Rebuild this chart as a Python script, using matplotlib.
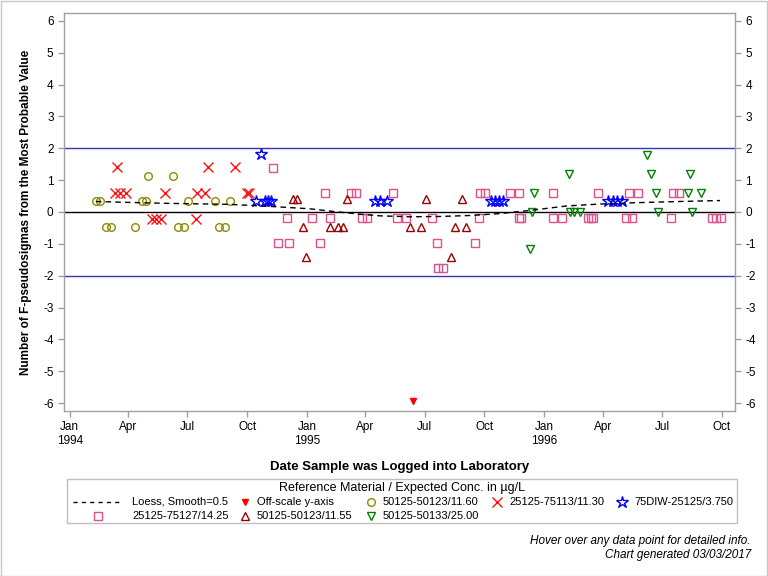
import numpy as np
import matplotlib
matplotlib.use("Agg")
import matplotlib.pyplot as plt
from matplotlib.lines import Line2D
from matplotlib.patches import Rectangle

plt.rcParams['font.family'] = ['Liberation Sans', 'DejaVu Sans']
plt.rcParams['axes.unicode_minus'] = False

BASE = np.datetime64('1994-01-01')

# ---- data (days since 1994-01-01, value in F-pseudosigmas) ----
loess_days = [40, 92, 154, 246, 313, 370, 400, 442, 477, 524, 570, 616, 662, 713, 765, 816, 867, 939, 1001]
loess_vals = [0.33, 0.30, 0.27, 0.24, 0.17, 0.10, 0.03, -0.06, -0.12, -0.15, -0.14, -0.11, -0.05, 0.06, 0.19, 0.25, 0.29, 0.33, 0.36]

off_days = [528]
off_vals = [-5.95]

olive_days = [40, 46, 56, 63, 100, 111, 117, 120, 159, 166, 176, 182, 224, 230, 239, 246]
olive_vals = [0.35, 0.35, -0.48, -0.48, -0.48, 0.35, 0.35, 1.13, 1.13, -0.48, -0.48, 0.35, 0.35, -0.48, -0.48, 0.35]

redx_days = [69, 73, 77, 86, 127, 133, 140, 147, 194, 196, 208, 213, 254, 273, 276]
redx_vals = [0.59, 1.40, 0.59, 0.59, -0.23, -0.23, -0.23, 0.59, -0.23, 0.59, 0.59, 1.40, 1.40, 0.59, 0.59]

star_days = [286, 294, 300, 305, 309, 470, 477, 488, 649, 655, 661, 667, 829, 836, 843, 850]
star_vals = [0.35, 1.82, 0.35, 0.35, 0.35, 0.35, 0.35, 0.35, 0.35, 0.35, 0.35, 0.35, 0.35, 0.35, 0.35, 0.35]

sq_days = [313, 321, 335, 338, 373, 385, 393, 401, 433, 440, 449, 457, 498, 504, 518, 558, 566, 567,
           575, 623, 630, 631, 639, 677, 692, 692, 694, 744, 744, 758, 798, 802, 806, 813, 856, 861,
           866, 875, 926, 929, 938, 988, 995, 1002]
sq_vals = [1.37, -0.98, -0.2, -0.98, -0.2, -0.98, 0.59, -0.2, 0.59, 0.59, -0.2, -0.2, 0.59, -0.2, -0.2, -0.2, -0.98, -1.77,
           -1.77, -0.98, -0.2, 0.59, 0.59, 0.6, 0.6, -0.2, -0.2, 0.6, -0.2, -0.2, -0.2, -0.2, -0.2, 0.6, -0.2, 0.6,
           -0.2, 0.6, -0.2, 0.6, 0.6, -0.2, -0.2, -0.2]

tri_days = [343, 349, 359, 364, 400, 413, 421, 427, 524, 541, 548, 587, 593, 604, 610]
tri_vals = [0.40, 0.40, -0.48, -1.40, -0.48, -0.48, -0.48, 0.40, -0.48, -0.48, 0.40, -1.40, -0.48, 0.40, -0.48]

grn_days = [709, 712, 715, 769, 770, 776, 785, 888, 895, 903, 906, 951, 955, 958, 972]
grn_vals = [-1.16, 0.0, 0.59, 1.19, 0.0, 0.0, 0.0, 1.79, 1.19, 0.59, 0.0, 0.59, 1.19, 0.0, 0.59]

ref_lines = [2, 0, -2]
tick_dates = ['1994-01-01', '1994-04-01', '1994-07-01', '1994-10-01', '1995-01-01', '1995-04-01',
              '1995-07-01', '1995-10-01', '1996-01-01', '1996-04-01', '1996-07-01', '1996-10-01']
tick_labels = ['Jan\n1994', 'Apr', 'Jul', 'Oct', 'Jan\n1995', 'Apr', 'Jul', 'Oct', 'Jan\n1996', 'Apr', 'Jul', 'Oct']
y_ticks = list(range(-6, 7))

legend_title = 'Reference Material / Expected Conc. in µg/L'
legend_labels = ['Loess, Smooth=0.5', 'Off-scale y-axis', '50125-50123/11.60', '25125-75113/11.30',
                 '75DIW-25125/3.750', '25125-75127/14.25', '50125-50123/11.55', '50125-50133/25.00']


def d(days):
    return BASE + np.array(days, dtype='timedelta64[D]')


W, H = 768, 576
fig = plt.figure(figsize=(W / 100, H / 100), dpi=100)
fx = lambda px: px / W
fy = lambda py: 1 - py / H

ax = fig.add_axes([fx(64), fy(411), fx(735) - fx(64), fy(13) - fy(411)])

# styles
st = {
    'off': dict(marker='v', color='#FF0000', ms=5, ls='none'),
    'olive': dict(marker='o', mfc='none', mec='#8C8C00', ms=5.5, mew=1.0, ls='none'),
    'redx': dict(marker='x', color='#FF1010', ms=6.5, mew=1.0, ls='none'),
    'star': dict(marker='*', mfc='none', mec='#0000FF', ms=9, mew=1.0, ls='none'),
    'sq': dict(marker='s', mfc='none', mec='#E0508A', ms=5.5, mew=1.0, ls='none'),
    'tri': dict(marker='^', mfc='none', mec='#990000', ms=5.5, mew=1.0, ls='none'),
    'grn': dict(marker='v', mfc='none', mec='#008000', ms=5.5, mew=1.0, ls='none'),
}

ax.axhline(ref_lines[0], color='#3333BB', lw=1.0, zorder=1)
ax.axhline(ref_lines[1], color='black', lw=1.0, zorder=1)
ax.axhline(ref_lines[2], color='#3333BB', lw=1.0, zorder=1)

ax.plot(d(loess_days), loess_vals, color='black', lw=1.0, dashes=(4, 3), zorder=3)
ax.plot(d(off_days), off_vals, **st['off'])
ax.plot(d(olive_days), olive_vals, **st['olive'])
ax.plot(d(redx_days), redx_vals, **st['redx'])
ax.plot(d(star_days), star_vals, **st['star'])
ax.plot(d(sq_days), sq_vals, **st['sq'])
ax.plot(d(tri_days), tri_vals, **st['tri'])
ax.plot(d(grn_days), grn_vals, **st['grn'])

ax.set_xlim(np.datetime64('1993-12-23'), np.datetime64('1996-10-21'))
ax.set_ylim(-6.25, 6.25)
ax.set_xticks(np.array(tick_dates, dtype='datetime64[D]'))
ax.set_xticklabels(tick_labels)
ax.set_yticks(y_ticks)
ax.tick_params(axis='both', colors='#A0A0A0', labelcolor='black', labelsize=8.5, length=4, width=1)
ax.tick_params(axis='y', right=True, labelright=True)
for sp in ax.spines.values():
    sp.set_color('#A0A0A0')
    sp.set_linewidth(1.0)

ax.set_xlabel('Date Sample was Logged into Laboratory', fontsize=9.5, fontweight='bold', labelpad=10)
ax.set_ylabel('Number of F-pseudosigmas from the Most Probable Value', fontsize=8.5, fontweight='bold', labelpad=8)

# ---- legend (manual) ----
fig.add_artist(Rectangle((fx(67), fy(523)), fx(737) - fx(67), fy(479) - fy(523),
                         transform=fig.transFigure, fill=False, ec='#C0C0C0', lw=1.0))
fig.text(fx(402), fy(488), legend_title, ha='center', va='center', fontsize=9)

row1, row2 = 502, 516
fig.add_artist(Line2D([fx(73), fx(121)], [fy(row1), fy(row1)], color='black', lw=1.0, dashes=(3, 3),
                      transform=fig.transFigure))
fs = 8
fig.text(fx(132), fy(row1), legend_labels[0], ha='left', va='center', fontsize=fs)
items = [
    (245, row1, 'off', 1), (371, row1, 'olive', 2), (497, row1, 'redx', 3), (622, row1, 'star', 4),
    (98, row2, 'sq', 5), (245, row2, 'tri', 6), (371, row2, 'grn', 7),
]
for mx, my, key, li in items:
    fig.add_artist(Line2D([fx(mx)], [fy(my)], transform=fig.transFigure, **st[key]))
    lx = 132 if mx < 120 else mx + 12
    fig.text(fx(lx), fy(my), legend_labels[li], ha='left', va='center', fontsize=fs)

# footer
fig.text(fx(751), fy(541), 'Hover over any data point for detailed info.', ha='right', va='center',
         fontsize=8.5, style='italic')
fig.text(fx(751), fy(555), 'Chart generated 03/03/2017', ha='right', va='center',
         fontsize=8.5, style='italic')

# outer border
fig.add_artist(Rectangle((0.5 / W, 0.5 / H), 1 - 1.5 / W, 1 - 1.5 / H, transform=fig.transFigure,
                         fill=False, ec='#C8C8C8', lw=1.0))

fig.savefig('out.png', dpi=100)
